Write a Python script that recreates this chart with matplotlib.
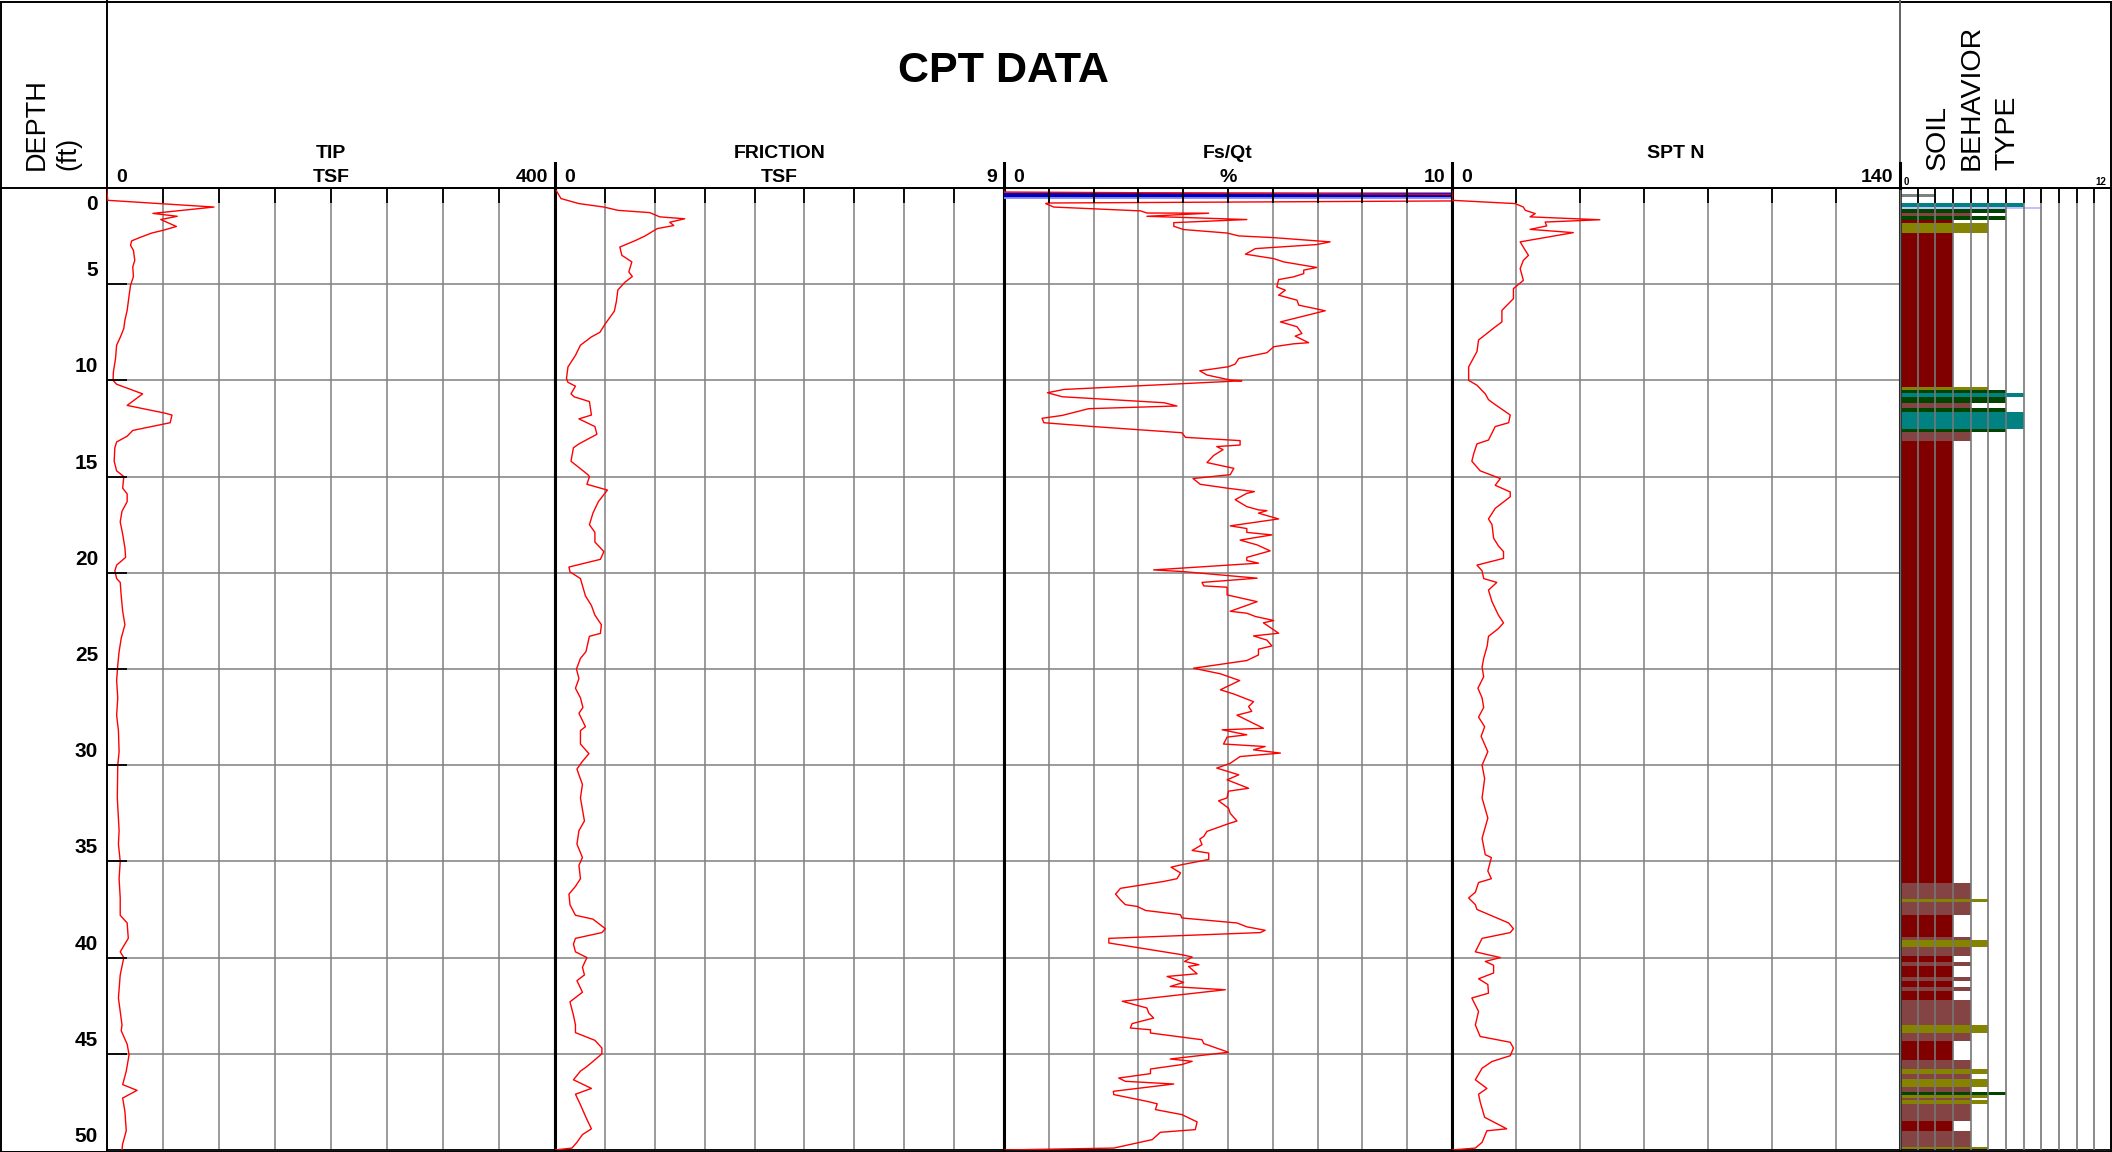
import numpy as np
import matplotlib
matplotlib.use("Agg")
import matplotlib.pyplot as plt
from matplotlib.lines import Line2D
from matplotlib.patches import Rectangle

plt.rcParams['font.family'] = ['Liberation Sans', 'DejaVu Sans']

# ---- sounding data (depth in ft) ----
tip_depth = [0.0, 0.2, 0.64, 0.99, 1.32, 1.47, 1.64, 2.0, 2.2, 2.34, 2.58, 2.75, 2.98, 3.24, 3.76,
             4.1, 4.6, 5.06, 5.6, 6.36, 6.87, 7.3, 7.74, 8.17, 8.87, 9.56, 10.0, 10.2, 10.7, 11.3,
             11.7, 11.8, 12.2, 12.6, 12.9, 13.2, 13.5, 14.2, 14.7, 15.0, 15.6, 15.9, 16.3, 16.8,
             17.35, 18.0, 18.7, 19.2, 19.6, 19.9, 20.3, 20.5, 21.2, 22.0, 22.7, 23.4, 24.1, 24.8,
             25.6, 26.5, 27.4, 28.2, 29.3, 30.0, 31.7, 33.4, 34.1, 35.0, 35.9, 36.9, 37.8, 38.2,
             39.0, 39.7, 40.0, 40.9, 42.1, 42.8, 43.5, 43.8, 44.5, 45.05, 45.9, 46.6, 46.9, 47.3,
             48.0, 49.0, 49.7, 50.0]
tip_tsf = [0.0, 0.0, 0.6, 95.5, 41, 62.7, 48, 62, 50, 40, 29, 22, 21, 23.6, 24.8,
           23, 23.6, 21, 19.7, 18, 16, 15, 12, 8.6, 7.6, 5.7, 5.4, 8.6, 31.8, 18,
           51.6, 58, 56.4, 23, 18, 8.6, 7, 6.4, 8.6, 15, 14, 18, 18, 13.4,
           11.8, 14, 16, 16.6, 8.6, 7, 8.6, 11.8, 12.7, 14, 16, 12.7, 10.8, 9.6,
           8.6, 9.6, 8.6, 10.2, 10.8, 9.6, 9.2, 10.8, 10.2, 11.8, 10.8, 11.8, 11.8, 18,
           19, 11.8, 15, 11.8, 10.2, 11.8, 13.4, 12.7, 18, 19.7, 17.2, 14, 26.8, 14,
           16, 17.2, 13.9, 13.4]

fric_depth = [0.0, 0.2, 0.55, 0.81, 0.99, 1.16, 1.28, 1.5, 1.6, 1.78, 1.95, 2.11, 2.5, 2.72, 3.07,
              3.5, 3.84, 4.36, 4.6, 4.9, 5.3, 5.9, 6.4, 7.05, 7.5, 7.74, 8.17, 8.7, 9.3, 9.9,
              10.1, 10.3, 10.7, 10.86, 11.1, 11.8, 12.0, 12.4, 12.8, 13.3, 13.5, 14.2, 14.9, 15.0,
              15.4, 15.7, 16.3, 16.9, 17.5, 17.9, 18.4, 18.9, 19.3, 19.7, 19.95, 20.3, 21.2, 21.7,
              22.2, 22.7, 23.15, 23.3, 24.1, 24.45, 25.0, 25.5, 26.0, 26.5, 27.0, 27.3, 28.0, 28.2,
              28.9, 29.4, 29.8, 30.2, 30.5, 31.0, 31.7, 32.9, 33.4, 34.1, 34.8, 35.2, 35.9, 36.3,
              36.7, 37.25, 37.8, 38.0, 38.5, 38.7, 39.0, 39.3, 39.7, 40.0, 40.5, 40.9, 41.2, 41.8,
              42.3, 43.0, 43.5, 43.9, 44.3, 44.7, 45.0, 45.4, 45.7, 45.9, 46.35, 46.8, 47.1, 47.65,
              48.3, 48.9, 49.2, 49.6, 49.9, 50.0]
fric_tsf = [0.0, 0.04, 0.12, 0.48, 0.98, 1.26, 1.9, 2.1, 2.6, 2.3, 2.38, 2.05, 1.8, 1.62, 1.3,
            1.34, 1.54, 1.48, 1.55, 1.4, 1.26, 1.23, 1.19, 1.01, 0.9, 0.73, 0.51, 0.41, 0.26, 0.23,
            0.26, 0.41, 0.32, 0.39, 0.69, 0.73, 0.48, 0.8, 0.84, 0.48, 0.37, 0.32, 0.66, 0.69,
            0.64, 1.05, 0.87, 0.76, 0.69, 0.8, 0.8, 0.98, 0.91, 0.28, 0.3, 0.51, 0.61, 0.73,
            0.8, 0.93, 0.91, 0.69, 0.62, 0.51, 0.43, 0.48, 0.41, 0.51, 0.56, 0.48, 0.61, 0.51,
            0.51, 0.68, 0.55, 0.44, 0.48, 0.55, 0.51, 0.59, 0.48, 0.44, 0.55, 0.48, 0.51, 0.41,
            0.28, 0.3, 0.41, 0.76, 1.01, 0.94, 0.41, 0.37, 0.41, 0.64, 0.55, 0.59, 0.44, 0.55,
            0.3, 0.37, 0.41, 0.41, 0.8, 0.94, 0.94, 0.76, 0.62, 0.51, 0.37, 0.73, 0.41, 0.51,
            0.62, 0.73, 0.55, 0.44, 0.34, 0.0]

ratio_depth = [0.0, 0.21, 0.33, 0.67, 0.78, 0.81, 0.99, 1.19, 1.3, 1.31, 1.47, 1.64, 1.8, 1.99, 2.16,
               2.34, 2.49, 2.58, 2.8, 2.94, 3.15, 3.44, 3.67, 3.84, 4.13, 4.27, 4.45, 4.62, 4.76,
               5.14, 5.31, 5.57, 5.83, 6.09, 6.38, 6.96, 7.21, 7.56, 7.7, 8.04, 8.1, 8.25, 8.56,
               8.86, 9.15, 9.29, 9.5, 9.72, 9.98, 10.02, 10.47, 10.64, 10.85, 11.16, 11.33, 11.47,
               11.82, 11.97, 12.2, 12.4, 12.72, 12.96, 13.13, 13.36, 13.44, 13.6, 13.9, 14.27,
               14.57, 14.9, 15.1, 15.4, 15.6, 15.78, 15.87, 16.2, 16.56, 16.73, 16.77, 16.9, 17.2,
               17.56, 17.7, 17.9, 18.03, 18.3, 18.55, 18.86, 19.2, 19.36, 19.5, 19.85, 19.94,
               20.28, 20.5, 20.68, 20.75, 21.15, 21.5, 22.0, 22.1, 22.27, 22.48, 22.6, 23.14,
               23.28, 23.5, 23.8, 23.97, 24.27, 24.56, 24.96, 25.25, 25.6, 26.08, 26.3, 26.7,
               26.95, 27.2, 27.4, 28.08, 28.16, 28.42, 28.54, 28.9, 29.03, 29.2, 29.37, 29.55,
               29.9, 30.15, 30.5, 30.76, 31.2, 31.35, 31.7, 31.85, 32.23, 32.5, 32.9, 33.04,
               33.44, 33.7, 33.84, 34.13, 34.43, 34.57, 34.9, 35.17, 35.3, 35.6, 35.9, 36.04,
               36.4, 36.7, 37.0, 37.25, 37.34, 37.55, 37.77, 37.94, 38.2, 38.4, 38.55, 38.58,
               38.7, 39.0, 39.24, 39.85, 39.97, 40.2, 40.37, 40.46, 40.84, 40.98, 41.29, 41.5,
               41.67, 42.27, 42.62, 42.88, 43.14, 43.43, 43.66, 43.75, 43.92, 44.27, 44.47,
               44.92, 45.27, 45.39, 45.56, 45.79, 46.03, 46.26, 46.43, 46.57, 46.95, 47.12,
               47.47, 47.6, 47.9, 48.16, 48.54, 48.94, 49.08, 49.46, 49.9, 50.0]
ratio_pct = [0.0, 0.0, 10.07, 10.18, 1.0, 0.93, 1.11, 3.05, 3.19, 4.57, 3.19, 5.42, 3.79, 3.79, 4.01,
             4.98, 5.24, 6.02, 7.28, 6.98, 5.61, 5.39, 6.02, 6.24, 6.98, 6.69, 6.69, 6.46, 6.13,
             6.09, 6.28, 6.13, 6.54, 6.58, 7.17, 6.17, 6.54, 6.65, 6.5, 6.8, 6.46, 6.02, 5.87,
             5.24, 5.16, 5.01, 4.37, 4.53, 5.05, 5.31, 1.34, 0.97, 1.3, 3.57, 3.86, 1.89,
             1.3, 0.85, 0.89, 2.0, 3.97, 4.05, 5.27, 5.27, 4.75, 4.89, 4.68, 4.53,
             5.13, 5.05, 4.22, 4.38, 4.98, 5.59, 5.42, 5.16, 5.42, 5.68, 5.87, 5.68, 6.13,
             5.05, 5.42, 5.42, 5.98, 5.27, 5.65, 5.94, 5.42, 5.42, 5.68, 3.34, 4.01,
             5.65, 4.42, 4.46, 4.98, 4.98, 5.65, 5.05, 5.42, 5.61, 6.02, 5.79, 6.13,
             5.57, 5.87, 5.98, 5.68, 5.68, 5.42, 4.23, 4.83, 5.26, 4.83, 5.13, 5.57,
             5.46, 5.53, 5.2, 5.79, 4.87, 5.42, 4.98, 4.9, 5.83, 5.57, 6.17, 5.27,
             5.05, 4.75, 5.24, 4.98, 5.46, 5.01, 4.98, 4.79, 5.01, 5.05, 5.2, 5.01,
             4.53, 4.46, 4.37, 4.42, 4.2, 4.57, 4.57, 3.97, 3.73, 3.94, 3.86, 3.57,
             2.6, 2.49, 2.6, 2.71, 2.97, 3.16, 3.94, 3.97, 5.2, 5.42, 5.76, 5.83,
             5.72, 2.34, 2.34, 3.97, 4.2, 4.03, 4.35, 4.12, 4.31, 3.64, 4.01, 3.71,
             4.94, 2.64, 3.19, 3.23, 3.34, 2.86, 2.82, 3.27, 3.27, 4.42, 4.46,
             5.01, 3.71, 4.2, 3.97, 3.27, 3.27, 2.56, 2.71, 3.79, 2.44, 2.45,
             3.19, 3.42, 3.38, 3.97, 4.31, 4.27, 3.49, 3.31, 2.45, 0.0]

spt_depth = [0.0, 0.64, 0.81, 0.99, 1.16, 1.33, 1.5, 1.65, 1.77, 1.97, 2.15, 2.32, 2.8, 3.24, 3.5,
             3.76, 4.19, 4.8, 5.23, 5.75, 6.36, 6.96, 7.22, 7.9, 8.5, 9.3, 10.0, 10.25, 10.7,
             11.0, 11.2, 11.8, 12.2, 12.4, 13.1, 13.3, 13.8, 14.2, 14.7, 15.1, 15.45, 15.8, 16.05,
             16.65, 17.2, 17.5, 18.2, 18.6, 18.9, 19.25, 19.6, 19.9, 20.3, 20.5, 20.9, 21.5, 22.2,
             22.6, 22.9, 23.3, 23.8, 24.45, 24.9, 25.4, 26.0, 26.5, 27.0, 27.5, 28.0, 28.5, 29.3,
             30.0, 30.7, 31.7, 32.75, 33.8, 34.65, 34.8, 35.5, 35.9, 36.1, 36.6, 36.9, 37.25, 37.5,
             38.2, 38.5, 38.7, 39.0, 39.7, 40.0, 40.2, 40.4, 40.8, 41.1, 41.4, 41.85, 42.1, 42.8,
             43.5, 44.1, 44.4, 44.7, 45.1, 45.4, 45.75, 46.35, 46.8, 47.1, 47.5, 48.3, 48.9, 49.0,
             49.6, 49.9, 50.0]
spt_n = [0.0, 0.0, 19.7, 22.3, 22.9, 26, 24.4, 46.2, 29.1, 29.6, 24.4, 37.9, 21.3, 22.9, 23.9,
         22.3, 21.3, 22.3, 19.2, 19.2, 15.6, 15.6, 13.5, 8.3, 7.8, 5.2, 5.2, 7.8, 10.4,
         11.4, 13.0, 18.2, 17.7, 13.5, 11.4, 7.8, 6.8, 6.2, 8.8, 15.1, 13.5, 18.2, 18.2,
         13.5, 11.4, 12.5, 13.0, 14.5, 16.1, 16.1, 7.8, 9.4, 9.9, 14.0, 11.4, 12.5, 14.5,
         16.1, 14.5, 11.4, 11.0, 9.9, 9.4, 9.9, 8.1, 9.4, 9.9, 8.3, 10.2, 9.1, 11.2,
         9.4, 10.2, 9.4, 11.2, 9.4, 10.4, 12.3, 11.2, 12.3, 8.3, 7.3, 5.2, 7.3, 7.8,
         17.7, 19.2, 18.2, 9.4, 7.3, 15.1, 10.4, 13.0, 13.0, 8.3, 11.2, 11.4, 6.2, 8.3,
         7.3, 8.8, 18.2, 19.2, 18.2, 12.5, 9.4, 7.3, 10.9, 8.3, 8.8, 10.2, 17.1, 10.9,
         9.4, 7.3, 0.0]

# marker line drawn across the friction ratio track
ratio_marker_depth = 0.38

# soil behaviour type layers: top, bottom, zone
sbt_top = [0.31, 0.78, 0.97, 1.1, 1.28, 1.44, 1.66, 1.8, 2.32, 10.34, 10.5, 10.65, 10.86, 11.17,
           11.46, 11.64, 12.5, 12.68, 13.15, 36.12, 36.96, 37.13, 37.77, 38.92, 39.09, 39.44,
           39.9, 40.22, 40.43, 41.03, 41.24, 41.52, 41.73, 42.2, 43.5, 43.9, 44.33, 45.3, 45.8,
           46.03, 46.3, 46.7, 46.96, 47.15, 47.3, 47.42, 47.6, 48.5, 49.0, 49.83]
sbt_bottom = sbt_top[1:] + [50.0]
sbt_bottom[0] = 0.49
sbt_zone = [2, 7, 8, 6, 4, 6, 3, 5, 3, 5, 6, 7, 6, 4,
            6, 7, 6, 4, 3, 4, 5, 4, 3, 4, 5, 4,
            3, 4, 3, 4, 3, 4, 3, 4, 5, 4, 3, 4, 5,
            4, 5, 4, 6, 5, 4, 5, 4, 3, 4, 5]
zone_colors = {2: '#808080', 3: '#800000', 4: '#844444', 5: '#848400',
               6: '#004400', 7: '#008282', 8: '#c0c0ff'}

# ---- layout (pixels) ----
W, H = 2112, 1152
TOP, BOT = 188, 1150
GRID = '#808080'
TICK_PX = 15

fig = plt.figure(figsize=(W / 100, H / 100), dpi=100)


def px_axes(x0, x1):
    return fig.add_axes([x0 / W, 1 - BOT / H, (x1 - x0) / W, (BOT - TOP) / H])


def fig_line(x0, y0, x1, y1, **kw):
    fig.add_artist(Line2D([x0 / W, x1 / W], [1 - y0 / H, 1 - y1 / H],
                          transform=fig.transFigure, **kw))


def fig_text(x, y, s, **kw):
    fig.text(x / W, 1 - y / H, s, **kw)


def top_ticks(ax, values):
    # short dark marks hanging down from the top edge at each grid value
    frac = TICK_PX / (BOT - TOP)
    tr = ax.get_xaxis_transform()
    for v in values:
        ax.plot([v, v], [1, 1 - frac], transform=tr, color='black', lw=1.3,
                zorder=5, clip_on=False, solid_capstyle='butt')


tracks = [
    (107, 555, 400, 50, ['TIP', 'TSF'], '400', tip_tsf, tip_depth),
    (555, 1004, 9, 1, ['FRICTION', 'TSF'], '9', fric_tsf, fric_depth),
    (1004, 1452, 10, 1, ['Fs/Qt', '%'], '10', ratio_pct, ratio_depth),
    (1452, 1900, 140, 20, ['SPT N'], '140', spt_n, spt_depth),
]

for i, (x0, x1, xmax, step, titles, right_lbl, xs, ys) in enumerate(tracks):
    ax = px_axes(x0, x1)
    ax.set_xlim(0, xmax)
    ax.set_ylim(50, 0)
    xt = np.arange(0, xmax + step / 2, step)
    ax.set_xticks(xt)
    ax.set_yticks(np.arange(0, 51, 5))
    ax.grid(True, color=GRID, lw=1.1)
    ax.tick_params(length=0, labelbottom=False, labelleft=False)
    top_ticks(ax, xt[1:-1])
    if i == 0:
        yt = ax.get_yaxis_transform()
        frac = 20 / (x1 - x0)
        for d in range(5, 50, 5):
            ax.plot([0, frac], [d, d], transform=yt, color='black', lw=1.3, zorder=5,
                    solid_capstyle='butt')
        for d in range(0, 51, 5):
            if d == 0:
                ax.annotate(str(d), xy=(0, d), xycoords=('axes fraction', 'data'),
                            xytext=(-9, -7), textcoords='offset pixels',
                            ha='right', va='top', fontsize=15, fontweight='bold')
            else:
                ax.annotate(str(d), xy=(0, d), xycoords=('axes fraction', 'data'),
                            xytext=(-9, 4), textcoords='offset pixels',
                            ha='right', va='bottom', fontsize=15, fontweight='bold')
    for side in ['top', 'bottom']:
        ax.spines[side].set_linewidth(1.3)
    ax.spines['left'].set_linewidth(1.4 if i == 0 else 2.2)
    ax.spines['right'].set_linewidth(2.2)

    if i == 2:
        ax.axhline(ratio_marker_depth, color='#8c8cff', lw=5, zorder=3)
        ax.axhline(ratio_marker_depth, color='#0000b4', lw=3, zorder=3)
    ax.plot(xs, ys, color='#ff0000', lw=1.0, zorder=4)

    # track header
    xc = (x0 + x1) / 2
    for k, t in enumerate(titles):
        fig_text(xc, 153 + 24 * k, t, ha='center', va='center', fontsize=14, fontweight='bold')
    fig_text(x0 + 9, 177, '0', ha='left', va='center', fontsize=14, fontweight='bold')
    fig_text(x1 - 7, 177, right_lbl, ha='right', va='center', fontsize=14, fontweight='bold')

# soil behaviour type track
axs = px_axes(1900, 2112)
axs.set_xlim(0, 12)
axs.set_ylim(50, 0)
sbt_mid = [(t + b) / 2 for t, b in zip(sbt_top, sbt_bottom)]
sbt_h = [b - t for t, b in zip(sbt_top, sbt_bottom)]
axs.barh(sbt_mid, sbt_zone, height=sbt_h, left=0,
         color=[zone_colors[z] for z in sbt_zone], linewidth=0, zorder=1)
sx = np.arange(0, 13, 1)
axs.set_xticks(sx)
axs.set_yticks([])
axs.set_axisbelow(False)
axs.grid(True, axis='x', color='#777777', lw=1.2)
axs.tick_params(length=0, labelbottom=False)
top_ticks(axs, sx[1:-1])
axs.spines['left'].set_color('#303030')
axs.spines['left'].set_linewidth(2.0)
for side in ['top', 'bottom', 'right']:
    axs.spines[side].set_linewidth(1.3)
fig_text(1904, 182, '0', ha='left', va='center', fontsize=7, fontweight='bold')
fig_text(2106, 182, '12', ha='right', va='center', fontsize=7, fontweight='bold')

# header frame
fig.add_artist(Rectangle((0.5 / W, 0.5 / H), (W - 1.5) / W, (H - 2) / H,
                         transform=fig.transFigure, fill=False, ec='black', lw=1.4))
fig_line(0, TOP, W, TOP, color='black', lw=1.4)
fig_line(107, 0, 107, TOP, color='black', lw=1.4)
fig_line(1900, 0, 1900, TOP, color='#606060', lw=1.4)
for xb in [555, 1004, 1452, 1900]:
    fig_line(xb, 163, xb, TOP, color='black', lw=2.2)

fig_text(1003, 71, 'CPT DATA', ha='center', va='center', fontsize=31, fontweight='bold')
for xt_, s in [(37, 'DEPTH'), (68, '(ft)')]:
    fig.text(xt_ / W, 1 - 170 / H, s, rotation=90, rotation_mode='anchor',
             ha='left', va='center', fontsize=19.5)
for xt_, s in [(1938, 'SOIL'), (1972, 'BEHAVIOR'), (2007, 'TYPE')]:
    fig.text(xt_ / W, 1 - 170 / H, s, rotation=90, rotation_mode='anchor',
             ha='left', va='center', fontsize=20.5)

fig.savefig('out.png', dpi=100)
